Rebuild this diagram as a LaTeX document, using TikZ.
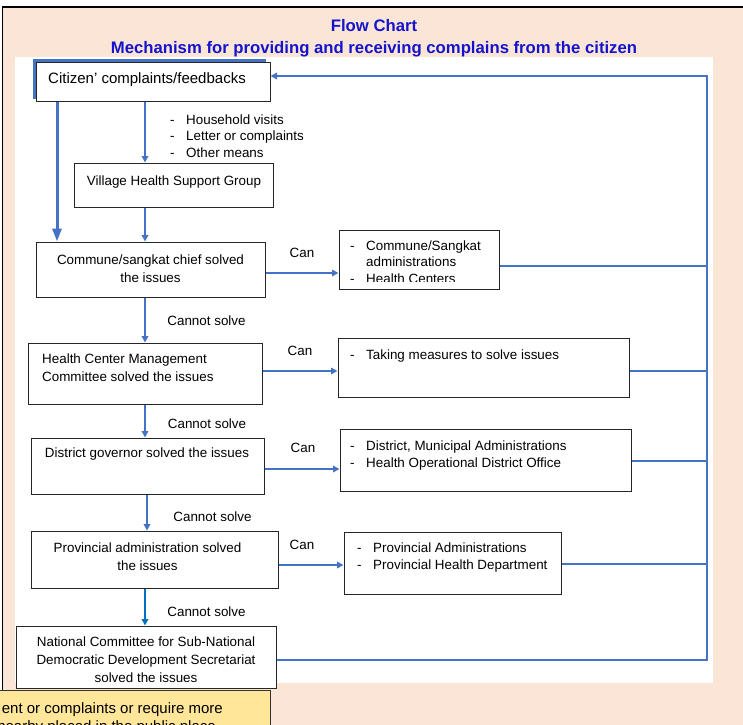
\documentclass[tikz,border=0pt]{standalone}
\usepackage{fontspec}
\setmainfont{Liberation Sans}
\usetikzlibrary{arrows.meta,fit}
\definecolor{cblue}{HTML}{4472C4}
\definecolor{cbluetwo}{HTML}{0070C0}
\definecolor{peach}{HTML}{FBE5D6}
\definecolor{ylw}{HTML}{FFE699}
\definecolor{ttl}{HTML}{1414CC}
\newcommand\idash{\makebox[16pt][l]{-}}
\begin{document}
\begin{tikzpicture}[x=1pt,y=-1pt,
  box/.style={draw=black!85,line width=1pt,fill=white,inner sep=0pt,rectangle},
  txt/.style={inner sep=0pt,font=\fontsize{13.4}{17.5}\selectfont,text=black},
  ttlstyle/.style={inner sep=0pt,font=\fontsize{16.7}{20}\selectfont\bfseries,text=ttl},
  conn/.style={draw=cblue,line width=2pt},
  arr/.style={conn,-{Triangle[length=6.5pt,width=6.5pt]}},
  bigarr/.style={draw=cblue,line width=3pt,-{Triangle[length=13pt,width=9pt]}},
]
\clip (0,0) rectangle (743,724);
\fill[white] (0,0) rectangle (743,724);
\draw[fill=peach,draw=black,line width=1.2pt] (2.5,7) rectangle (760,740);
\fill[white] (15,57) rectangle (713,683);

% titles
\node[ttlstyle,anchor=north] (t1) at (374,19) {Flow Chart};
\node[ttlstyle,anchor=north] (t2) at (374,41) {Mechanism for providing and receiving complains from the citizen};

% boxes
\node[fill=cblue,inner sep=0pt,fit={(33,59)(266,99)}] (citsh) {};
\node[box,fit={(36,62)(270,101)}] (cit) {};
\node[txt,font=\fontsize{15}{18}\selectfont,anchor=north west] (citt) at (48,72.6) {Citizen' complaints/feedbacks};

\node[txt,anchor=north west,align=left,font=\fontsize{13.4}{16.5}\selectfont] (means) at (170,114.2)
  {\idash Household visits\\\idash Letter or complaints\\\idash Other means};

\node[box,fit={(74,163)(273,207)}] (vh) {};
\node[txt,anchor=north] (vht) at (174,175.2) {Village Health Support Group};

\node[box,fit={(36,242)(265,297)}] (cc) {};
\node[txt,align=center,anchor=north,font=\fontsize{13.4}{18}\selectfont] (cct) at (150.5,254.2) {Commune/sangkat chief solved\\the issues};

\node[box,fit={(339,230)(499,289)}] (cs) {};
\begin{scope}
\clip (339,230) rectangle (499,281.5);
\node[txt,align=left,anchor=north west,font=\fontsize{13.4}{16.7}\selectfont] (cst) at (350,240.2)
  {\idash Commune/Sangkat\\\hspace*{16pt}administrations\\\idash Health Centers};
\end{scope}

\node[box,fit={(28,343)(262,404)}] (hc) {};
\node[txt,align=left,anchor=north west,font=\fontsize{13.4}{18}\selectfont] (hct) at (42,353.2)
  {Health Center Management\\Committee solved the issues};

\node[box,fit={(338,338)(629,397)}] (tm) {};
\node[txt,anchor=north west] (tmt) at (350,349.2) {\idash Taking measures to solve issues};

\node[box,fit={(31,438)(264,494)}] (dg) {};
\node[txt,anchor=north] (dgt) at (147,447.9) {District governor solved the issues};

\node[box,fit={(340,429)(631,491)}] (da) {};
\node[txt,align=left,anchor=north west,font=\fontsize{13.4}{17}\selectfont] (dat) at (350,440.2)
  {\idash District, Municipal Administrations\\\idash Health Operational District Office};

\node[box,fit={(31,531)(278,588)}] (pa) {};
\node[txt,align=center,anchor=north,font=\fontsize{13.4}{18}\selectfont] (pat) at (147.5,542.2)
  {Provincial administration solved\\the issues};

\node[box,fit={(344,532)(561,594)}] (pv) {};
\node[txt,align=left,anchor=north west,font=\fontsize{13.4}{17}\selectfont] (pvt) at (357,542.2)
  {\idash Provincial Administrations\\\idash Provincial Health Department};

\node[box,fit={(16,626)(276,688)}] (nc) {};
\node[txt,align=center,anchor=north,font=\fontsize{13.4}{18}\selectfont] (nct) at (146,636.2)
  {National Committee for Sub-National\\Democratic Development Secretariat\\solved the issues};

\node[fill=ylw,draw=black!80,line width=1pt,inner sep=0pt,fit={(-5,690)(270,740)}] (note) {};
\node[txt,font=\fontsize{15}{18}\selectfont,anchor=north east] (notea) at (223,702.6) {ent or complaints or require more};
\node[txt,font=\fontsize{15}{18}\selectfont,anchor=north east] (noteb) at (216,720.6) {nearby placed in the public place};

% labels
\node[txt,anchor=north] (can1) at (302,248.2) {Can};
\node[txt,anchor=north] (can2) at (300,346.2) {Can};
\node[txt,anchor=north] (can3) at (303,443.2) {Can};
\node[txt,anchor=north] (can4) at (302,540.2) {Can};
\node[txt,anchor=north] (cn1) at (206.5,315.2) {Cannot solve};
\node[txt,anchor=north] (cn2) at (207,418.2) {Cannot solve};
\node[txt,anchor=north] (cn3) at (212.5,511.2) {Cannot solve};
\node[txt,anchor=north] (cn4) at (206.5,606.2) {Cannot solve};

% helper coordinates
\coordinate (x145) at (145,0);
\coordinate (x147) at (147,0);
\coordinate (x57) at (57,0);
\coordinate (x707) at (707,0);
\coordinate (y76) at (0,76);
\coordinate (y273) at (0,273);
\coordinate (y266) at (0,266);
\coordinate (y371) at (0,371);
\coordinate (y469) at (0,469);
\coordinate (y461) at (0,461);
\coordinate (y565) at (0,565);
\coordinate (y564) at (0,564);
\coordinate (y660) at (0,660);

% connectors
\draw[arr] (cit.south -| x145) -- (vh.north -| x145);
\draw[bigarr] (cit.south -| x57) -- (cc.north -| x57);
\draw[arr] (vh.south -| x145) -- (cc.north -| x145);
\draw[arr] (cc.east |- y273) -- (cs.west |- y273);
\draw[conn] (cs.east |- y266) -- (x707 |- y266);
\draw[arr] (cc.south -| x145) -- (hc.north -| x145);
\draw[arr] (hc.east |- y371) -- (tm.west |- y371);
\draw[conn] (tm.east |- y371) -- (x707 |- y371);
\draw[arr] (hc.south -| x145) -- (dg.north -| x145);
\draw[arr] (dg.east |- y469) -- (da.west |- y469);
\draw[conn] (da.east |- y461) -- (x707 |- y461);
\draw[arr] (dg.south -| x147) -- (pa.north -| x147);
\draw[arr] (pa.east |- y565) -- (pv.west |- y565);
\draw[conn] (pv.east |- y564) -- (x707 |- y564);
\draw[arr,draw=cbluetwo,line width=1.8pt] (pa.south -| x145) -- (nc.north -| x145);
\draw[arr,line join=miter] (nc.east |- y660) -| (x707 |- y76) -- (cit.east |- y76);
\end{tikzpicture}
\end{document}
